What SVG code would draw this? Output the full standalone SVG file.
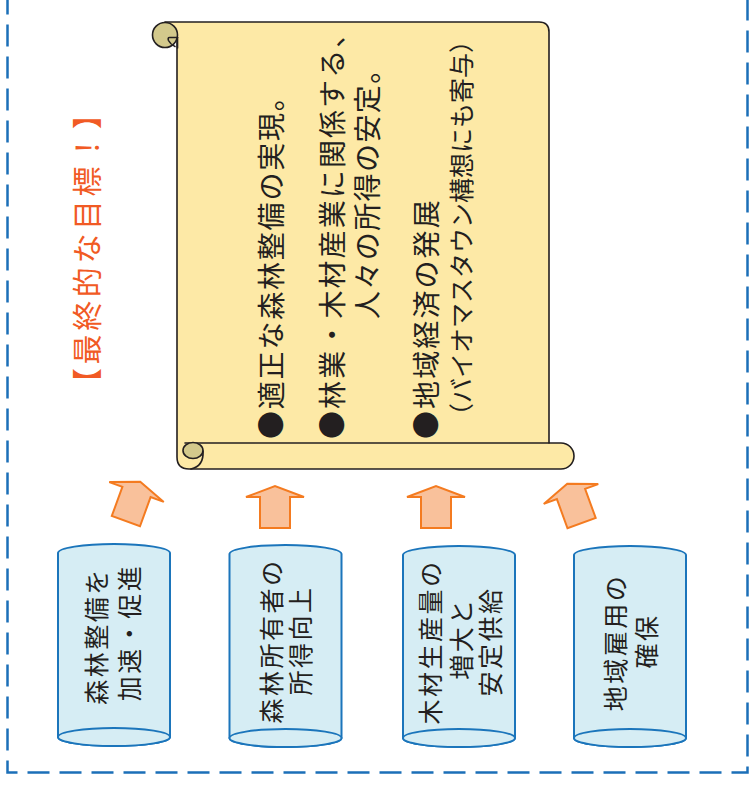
<svg xmlns="http://www.w3.org/2000/svg" width="754" height="787" viewBox="0 0 754 787">
<style>
.scroll{fill:#fde9a6;stroke:#231f20;stroke-width:1.6;stroke-linejoin:round}
.curl{fill:#d3c98c;stroke:#231f20;stroke-width:1.6}
.ln{fill:none;stroke:#231f20;stroke-width:1.6;stroke-linecap:round}
.arrow{fill:#f9c19b;stroke:#f47b20;stroke-width:2}
.cyl{fill:#d6edf4;stroke:#1b75bb;stroke-width:2}
.t{font-family:"Noto Sans CJK JP",sans-serif;fill:#231f20;dominant-baseline:central}
.title{fill:#f15a24;font-size:30px;letter-spacing:3.6px}
.ct{font-size:25px;letter-spacing:2.5px;text-anchor:middle}
.border{fill:none;stroke:#1b6fb8;stroke-width:2.5;stroke-dasharray:22 10;stroke-dashoffset:7.5}
</style>
<defs>
<path id="arr" d="M-29,0 L0,-11 L29,0 L15,0 L15,31 L-15,31 L-15,0 Z"/>
</defs>
<path class="border" d="M7.5,0 V772.5 H747.5 V0"/>
<g id="title">
<text class="t title" transform="translate(85,398) rotate(-90)">【最終的な目標！】</text>
</g>
<g id="scroll">
<path class="scroll" d="M165,22 H539 Q549,22 549,32 V443 H561 A13,13 0 0 1 561,469 H189 Q177,469 177,457 V35 Z"/>
<path class="ln" d="M185,443 H549"/>
<ellipse class="curl" cx="193" cy="450.5" rx="10" ry="8"/>
<path class="ln" d="M203,451 Q204,466 191,469"/>
<circle class="curl" cx="165" cy="35" r="12.5"/>
<path class="ln" d="M177.5,37.5 H169.5 Q167.5,37.5 168.5,40.5 Q170.5,44.5 175,46.5"/>
<path class="ln" d="M177.5,37.5 V48"/>
<text class="t" font-size="28" letter-spacing="1.8" transform="translate(269.5,439) rotate(-90)">●適正な森林整備の実現。</text>
<text class="t" font-size="28" letter-spacing="2.1" transform="translate(331,439) rotate(-90)">●林業・木材産業に関係する、</text>
<text class="t" font-size="28" letter-spacing="1.4" transform="translate(366,319) rotate(-90)">人々の所得の安定。</text>
<text class="t" font-size="28" letter-spacing="2.1" transform="translate(425,439) rotate(-90)">●地域経済の発展</text>
<text class="t" font-size="25" transform="translate(460,428) rotate(-90)">（バイオマスタウン構想にも寄与）</text>
</g>
<g id="connectors">
<use href="#arr" class="arrow" transform="translate(136.5,492) rotate(20)"/>
<use href="#arr" class="arrow" transform="translate(275,497)"/>
<use href="#arr" class="arrow" transform="translate(436,497)"/>
<use href="#arr" class="arrow" transform="translate(571,494) rotate(-20)"/>
</g>
<g id="cyl1">
<path class="cyl" d="M58,553 A56,9 0 0 1 170,553 V737 A56,9 0 0 1 58,737 Z"/>
<ellipse class="cyl" cx="114" cy="737" rx="56" ry="9"/>
<text class="t ct" transform="translate(95,636) rotate(-90)">森林整備を</text>
<text class="t ct" transform="translate(127.5,632.5) rotate(-90)">加速・促進</text>
</g>
<g id="cyl2">
<path class="cyl" d="M229.5,554 A56,9 0 0 1 341.5,554 V738 A56,9 0 0 1 229.5,738 Z"/>
<ellipse class="cyl" cx="285.5" cy="738" rx="56" ry="9"/>
<text class="t ct" transform="translate(270,641) rotate(-90)">森林所有者の</text>
<text class="t ct" transform="translate(299,640.5) rotate(-90)">所得向上</text>
</g>
<g id="cyl3">
<path class="cyl" d="M403,555 A56,9 0 0 1 515,555 V738 A56,9 0 0 1 403,738 Z"/>
<ellipse class="cyl" cx="459" cy="738" rx="56" ry="9"/>
<text class="t ct" transform="translate(428.5,642) rotate(-90)">木材生産量の</text>
<text class="t ct" transform="translate(460,638.5) rotate(-90)">増大と</text>
<text class="t ct" transform="translate(488.5,641.5) rotate(-90)">安定供給</text>
</g>
<g id="cyl4">
<path class="cyl" d="M574,555 A56,9 0 0 1 686,555 V738 A56,9 0 0 1 574,738 Z"/>
<ellipse class="cyl" cx="630" cy="738" rx="56" ry="9"/>
<text class="t ct" transform="translate(613.5,642.5) rotate(-90)">地域雇用の</text>
<text class="t ct" transform="translate(645,641) rotate(-90)">確保</text>
</g>
</svg>
